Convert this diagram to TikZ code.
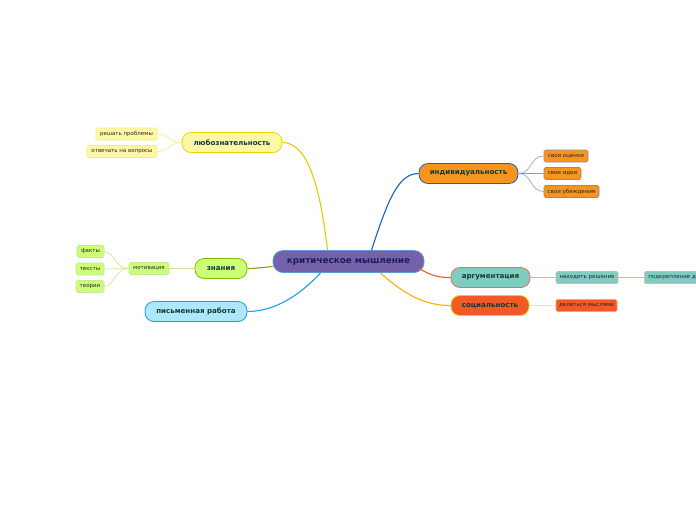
\documentclass[tikz,border=0pt]{standalone}
\usepackage{fontspec}
\setmainfont{DejaVu Sans}
\usetikzlibrary{calc}
\definecolor{cfill}{HTML}{7561A9}
\definecolor{cbord}{HTML}{5B9BD5}
\definecolor{ctext}{HTML}{1C1C5C}
\definecolor{mtext}{HTML}{123C30}
\definecolor{yfill}{HTML}{FFF7A8}
\definecolor{ybord}{HTML}{F2D600}
\definecolor{yline}{HTML}{E8CC00}
\definecolor{ysub}{HTML}{F5E98A}
\definecolor{gfill}{HTML}{CCFF77}
\definecolor{gbord}{HTML}{7FBF00}
\definecolor{gline}{HTML}{7AAB00}
\definecolor{gsub}{HTML}{C8E890}
\definecolor{bfill}{HTML}{AEE6FB}
\definecolor{bbord}{HTML}{1AA3E0}
\definecolor{ofill}{HTML}{F7941D}
\definecolor{obord}{HTML}{1F5FC8}
\definecolor{osub}{HTML}{7FA0E0}
\definecolor{olbord}{HTML}{8A8AA8}
\definecolor{tfill}{HTML}{7ECDC0}
\definecolor{tbord}{HTML}{E8705A}
\definecolor{tline}{HTML}{F05A28}
\definecolor{tsub}{HTML}{F2A8A0}
\definecolor{rfill}{HTML}{F15A24}
\definecolor{rbord}{HTML}{FFC20E}
\definecolor{rline}{HTML}{FFB000}
\definecolor{rsub}{HTML}{FFE08A}
\definecolor{rlbord}{HTML}{F8A070}
\tikzset{
  mainbox/.style={rounded corners=9pt, minimum height=20pt, inner sep=0pt, line width=0.8pt,
    font=\fontsize{7.1}{8}\selectfont\bfseries, text=mtext},
  leafbox/.style={rounded corners=1.5pt, minimum height=12pt, inner sep=0pt, line width=0.6pt,
    font=\fontsize{5.5}{6}\selectfont, text=black!85},
  mainline/.style={line width=1.1pt},
  subline/.style={line width=0.6pt},
}
\begin{document}
\begin{tikzpicture}[x=1pt,y=-1pt]
\useasboundingbox (0,0) rectangle (696,520);
\fill[white] (0,0) rectangle (696,520);

% central
\node[mainbox, fill=cfill, draw=cbord, text=ctext, minimum width=151pt, minimum height=22pt, rounded corners=10pt,
  font=\fontsize{8.8}{9}\selectfont\bfseries] (c) at (348.5,261.5) {критическое мышление};

% main topics
\node[mainbox, fill=yfill, draw=ybord, minimum width=100pt] (lub) at (232,142.5) {любознательность};
\node[mainbox, fill=gfill, draw=gbord, minimum width=52pt] (zn) at (221,268.5) {знания};
\node[mainbox, fill=bfill, draw=bbord, minimum width=102pt] (pis) at (196,311.5) {письменная работа};
\node[mainbox, fill=ofill, draw=obord, minimum width=99pt] (ind) at (468.5,173.5) {индивидуальность};
\node[mainbox, fill=tfill, draw=tbord, minimum width=79pt] (arg) at (490.5,277.5) {аргументация};
\node[mainbox, fill=rfill, draw=rbord, minimum width=78pt] (soc) at (490,305.5) {социальность};

% leaves
\node[leafbox, fill=yfill, draw=ysub, minimum width=61pt] (ras) at (126.5,134) {решать проблемы};
\node[leafbox, fill=yfill, draw=ysub, minimum width=70pt] (otv) at (122,151.5) {отвечать на вопросы};

\node[leafbox, fill=gfill, draw=gsub, minimum width=40pt] (mot) at (149,268.5) {мотивация};
\node[leafbox, fill=gfill, draw=gsub, minimum width=27pt] (fak) at (90.5,251.5) {факты};
\node[leafbox, fill=gfill, draw=gsub, minimum width=28pt] (tek) at (90,269) {тексты};
\node[leafbox, fill=gfill, draw=gsub, minimum width=28pt] (teo) at (90,286.5) {теории};

\node[leafbox, fill=ofill, draw=olbord, minimum width=44pt] (oc) at (566,156) {свои оценки};
\node[leafbox, fill=ofill, draw=olbord, minimum width=37pt] (id) at (562.5,173.5) {свои идеи};
\node[leafbox, fill=ofill, draw=olbord, minimum width=55pt] (ub) at (571.5,191.5) {свои убеждения};

\node[leafbox, fill=tfill, draw=tsub, minimum width=62pt] (nah) at (587,277.5) {находить решение};
\node[leafbox, fill=tfill, draw=tsub, anchor=west, inner xsep=4pt] (pod) at (644,277.5) {подкрепление доводов};

\node[leafbox, fill=rfill, draw=rlbord, minimum width=61pt] (del) at (586.5,305.5) {делиться мыслями};

% main connectors
\draw[mainline, yline] ([xshift=-21pt]c.north) .. controls (321,195) and (310,142.5) .. (lub.east);
\draw[mainline, gline] ([yshift=-5pt]c.west) .. controls (262,267.5) and (255,268.5) .. (zn.east);
\draw[mainline, bbord] ([xshift=-28pt]c.south) .. controls (300,295) and (275,311.5) .. (pis.east);
\draw[mainline, obord] ([xshift=23pt]c.north) .. controls (388,200) and (398,173.5) .. (ind.west);
\draw[mainline, tline] ([xshift=-6pt,yshift=5pt]c.south east) .. controls (432,276.5) and (440,277.5) .. (arg.west);
\draw[mainline, rline] ([xshift=32pt]c.south) .. controls (405,295) and (425,305.5) .. (soc.west);

% sub connectors
\draw[subline, ysub] (lub.west) .. controls (170,142.5) and (168,134) .. (ras.east);
\draw[subline, ysub] (lub.west) .. controls (170,142.5) and (168,151.5) .. (otv.east);
\draw[subline, gsub] (zn.west) -- (mot.east);
\draw[subline, gsub] (mot.west) .. controls (115,268.5) and (114,251.5) .. (fak.east);
\draw[subline, gsub] (mot.west) -- (tek.east);
\draw[subline, gsub] (mot.west) .. controls (115,268.5) and (114,286.5) .. (teo.east);
\draw[subline, osub] (ind.east) .. controls (532,173.5) and (530,156) .. (oc.west);
\draw[subline, osub] (ind.east) -- (id.west);
\draw[subline, osub] (ind.east) .. controls (532,173.5) and (530,191.5) .. (ub.west);
\draw[subline, tsub] (arg.east) -- (nah.west);
\draw[subline, tsub] (nah.east) -- (pod.west);
\draw[subline, rsub] (soc.east) -- (del.west);
\end{tikzpicture}
\end{document}
